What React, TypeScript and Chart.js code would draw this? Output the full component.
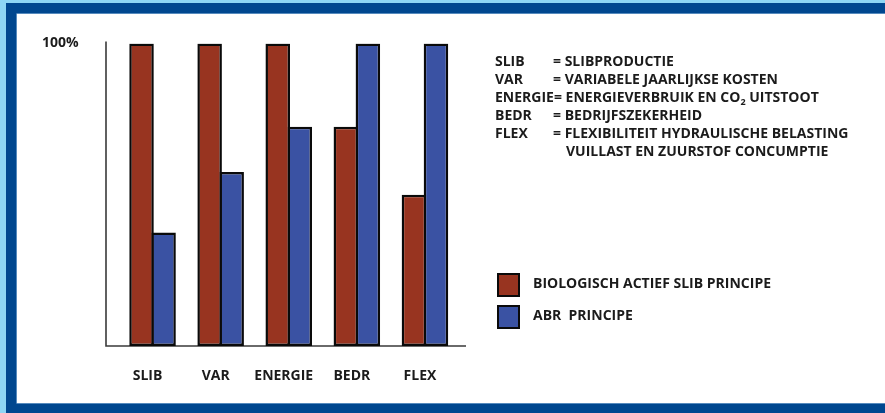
import React, { useEffect, useRef } from "react";
import { Chart, registerables } from "chart.js";

Chart.register(...registerables);

const categories = ["SLIB", "VAR", "ENERGIE", "BEDR", "FLEX"];
const biologischValues = [100, 100, 100, 72.5, 50];
const abrValues = [37.5, 57.5, 72.5, 100, 100];
const seriesNames = ["BIOLOGISCH ACTIEF SLIB PRINCIPE", "ABR  PRINCIPE"];
const seriesColors = ["#983420", "#3a52a3"];
const yTickLabel = "100%";
const yTickValue = 100;
const abbreviations = ["SLIB", "VAR", "ENERGIE", "BEDR", "FLEX"];
const definitions = [
  "SLIBPRODUCTIE",
  "VARIABELE JAARLIJKSE KOSTEN",
  "ENERGIEVERBRUIK EN CO_2 UITSTOOT",
  "BEDRIJFSZEKERHEID",
  "FLEXIBILITEIT HYDRAULISCHE BELASTING",
];
const definitionContinuation = "VUILLAST EN ZUURSTOF CONCUMPTIE";

const FONT = "'Open Sans', 'DejaVu Sans', sans-serif";
const TEXT = "#1b1b1b";

const axisLines = {
  id: "axisLines",
  beforeDatasetsDraw(chart: any) {
    const { ctx, chartArea } = chart;
    ctx.save();
    ctx.strokeStyle = "#3a3a3a";
    ctx.lineWidth = 1.6;
    ctx.beginPath();
    const x0 = chartArea.left - 12.5;
    ctx.moveTo(x0, chartArea.top - 2);
    ctx.lineTo(x0, chartArea.bottom);
    ctx.lineTo(chartArea.right + 7, chartArea.bottom);
    ctx.stroke();
    ctx.restore();
  },
};

function renderDef(text: string) {
  const parts = text.split("_2");
  if (parts.length === 1) return text;
  return (
    <>
      {parts[0]}
      <span style={{ fontSize: "9px", position: "relative", top: 3 }}>2</span>
      {parts[1]}
    </>
  );
}

export default function App() {
  const canvasRef = useRef<HTMLCanvasElement | null>(null);

  useEffect(() => {
    if (!canvasRef.current) return;
    const chart = new Chart(canvasRef.current, {
      type: "bar",
      data: {
        labels: categories,
        datasets: [
          {
            label: seriesNames[0],
            data: biologischValues,
            backgroundColor: seriesColors[0],
            borderColor: "#0a0a0a",
            borderWidth: 2.5,
            borderSkipped: false,
            categoryPercentage: 0.647,
            barPercentage: 1.1136,
          },
          {
            label: seriesNames[1],
            data: abrValues,
            backgroundColor: seriesColors[1],
            borderColor: "#0a0a0a",
            borderWidth: 2.5,
            borderSkipped: false,
            categoryPercentage: 0.647,
            barPercentage: 1.1136,
          },
        ],
      },
      options: {
        responsive: false,
        animation: false,
        layout: { padding: { left: 42, right: 426, top: 43.5, bottom: 0 } },
        plugins: { legend: { display: false }, tooltip: { enabled: false } },
        scales: {
          x: {
            offset: true,
            grid: { display: false, drawTicks: false },
            border: { display: false },
            ticks: {
              padding: 22,
              labelOffset: -5,
              color: TEXT,
              font: { family: FONT, size: 14, weight: "bold" },
              maxRotation: 0,
              autoSkip: false,
            },
            afterFit(scale: any) {
              scale.height = 67;
            },
          },
          y: {
            min: 0,
            max: 100,
            grid: { display: false, drawTicks: false },
            border: { display: false },
            ticks: {
              stepSize: 100,
              padding: 0,
              crossAlign: "far",
              color: TEXT,
              font: { family: FONT, size: 14, weight: "bold" },
              callback: (v: any) => (v === yTickValue ? yTickLabel : ""),
            },
            afterFit(scale: any) {
              scale.width = 76.5;
            },
          },
        },
      },
      plugins: [axisLines],
    });
    return () => chart.destroy();
  }, []);

  return (
    <div
      style={{
        position: "fixed",
        left: 0,
        top: 0,
        width: 885,
        height: 413,
        background: "#8ed6f4",
        overflow: "hidden",
        fontFamily: FONT,
      }}
    >
      <div
        style={{
          position: "absolute",
          left: 6,
          top: 3,
          width: 879,
          height: 410,
          background: "#00478f",
        }}
      />
      <div
        style={{
          position: "absolute",
          left: 17,
          top: 14,
          width: 868,
          height: 389,
          background: "#ffffff",
          boxShadow: "0 0 0 0.6px #8fb6dc",
        }}
      />
      <canvas
        ref={canvasRef}
        width={885}
        height={413}
        style={{ position: "absolute", left: 0, top: 0, width: 885, height: 413 }}
      />
      <div
        style={{
          position: "absolute",
          left: 495,
          top: 51.5,
          fontSize: 14,
          fontWeight: 700,
          color: TEXT,
          whiteSpace: "nowrap",
        }}
      >
        {abbreviations.map((term, i) => (
          <div key={term} style={{ height: 18.2, lineHeight: "18.2px" }}>
            <span style={{ display: "inline-block", minWidth: 58 }}>{term}</span>
            = {renderDef(definitions[i])}
          </div>
        ))}
        <div style={{ height: 18.2, lineHeight: "18.2px", paddingLeft: 71 }}>{definitionContinuation}</div>
      </div>
      {seriesNames.map((name, i) => (
        <div
          key={name}
          style={{
            position: "absolute",
            left: 497,
            top: 273 + i * 32,
            height: 24,
            display: "flex",
            alignItems: "center",
            whiteSpace: "pre",
          }}
        >
          <div
            style={{
              width: 23,
              height: 24,
              boxSizing: "border-box",
              border: "2.5px solid #0a0a0a",
              background: seriesColors[i],
            }}
          />
          <span
            style={{
              marginLeft: 13,
              fontSize: 14,
              fontWeight: 700,
              color: TEXT,
              position: "relative",
              top: -3,
            }}
          >
            {name}
          </span>
        </div>
      ))}
    </div>
  );
}
